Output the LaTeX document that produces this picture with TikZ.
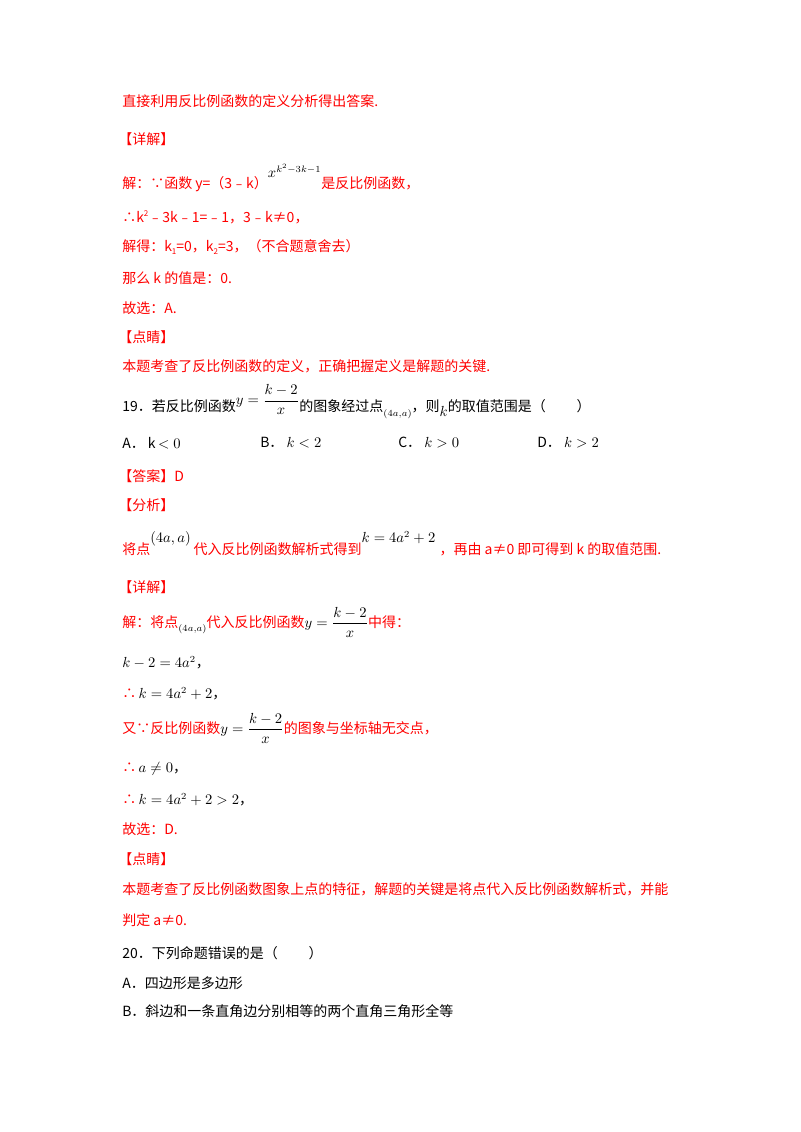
\documentclass[tikz,border=0pt]{standalone}
\usepackage{amsmath}
\usepackage{fontspec}
\setmainfont{Noto Sans CJK SC}
\definecolor{rd}{RGB}{255,0,0}
\begin{document}
\begin{tikzpicture}[x=0.75pt,y=-0.75pt,
  t/.style={anchor=west,inner sep=0pt,font=\fontsize{10.5pt}{12pt}\selectfont},
  r/.style={t,text=rd}]
\useasboundingbox[fill=white] (0,0) rectangle (800,1132);
\node[r] (l1) at (122,101) {直接利用反比例函数的定义分析得出答案.};
\node[r] (l2) at (118,139) {【详解】};
\node[r] (l3) at (122,178) {解：∵函数 y=（3﹣k）\raisebox{1.5ex}{\color{black}$x^{k^2-3k-1}$}是反比例函数，};
\node[r] (l4) at (122,217) {∴k\raisebox{0.8ex}{\fontsize{6pt}{6pt}\selectfont 2}﹣3k﹣1=﹣1，3﹣k≠0，};
\node[r] (l5) at (122,247) {解得：k\raisebox{-0.3ex}{\fontsize{6pt}{6pt}\selectfont 1}=0，k\raisebox{-0.3ex}{\fontsize{6pt}{6pt}\selectfont 2}=3，（不合题意舍去）};
\node[r] (l6) at (122,278) {那么 k 的值是：0.};
\node[r] (l7) at (122,308) {故选：A.};
\node[r] (l8) at (118,337) {【点睛】};
\node[r] (l9) at (122,366) {本题考查了反比例函数的定义，正确把握定义是解题的关键.};
\node[t] (q19) at (122,402) {\raisebox{-0.9ex}{19．若反比例函数}$y=\dfrac{k-2}{x}$\raisebox{-0.9ex}{的图象经过点}\raisebox{-1.6ex}{$\scriptstyle(4a,a)$}\raisebox{-0.9ex}{，则}\raisebox{-1.6ex}{$k$}\raisebox{-0.9ex}{的取值范围是（\hspace{2.2em}）}};
\node[t] (oa) at (122,443) {A．\ k$\,<0$};
\node[t] (ob) at (260,443) {B．\ $k<2$};
\node[t] (oc) at (398,443) {C．\ $k>0$};
\node[t] (od) at (537,443) {D．\ $k>2$};
\node[r] (ans) at (118,476) {【答案】D};
\node[r] (fx) at (118,505) {【分析】};
\node[r] (a1) at (122,544) {将点\raisebox{1.6ex}{\color{black}$(4a,a)$}\hspace{0.2em}代入反比例函数解析式得到\raisebox{1.6ex}{\color{black}$k=4a^2+2$}\hspace{0.3em}，再由 a≠0 即可得到 k 的取值范围.};
\node[r] (xj) at (118,587) {【详解】};
\node[r] (d1) at (122,622) {解：将点\raisebox{-0.6ex}{\color{black}$\scriptstyle(4a,a)$}代入反比例函数{\color{black}$y=\dfrac{k-2}{x}$}中得：};
\node[t] (d2) at (122,663) {$k-2=4a^2$，};
\node[t] (d3) at (122,694) {{\color{rd}∴}$\,k=4a^2+2$，};
\node[r] (d4) at (122,728) {又∵反比例函数{\color{black}$y=\dfrac{k-2}{x}$}的图象与坐标轴无交点，};
\node[t] (d5) at (122,769) {{\color{rd}∴}$\,a\neq0$，};
\node[t] (d6) at (122,800) {{\color{rd}∴}$\,k=4a^2+2>2$，};
\node[r] (d7) at (122,829) {故选：D.};
\node[r] (dj) at (118,859) {【点睛】};
\node[r] (e1) at (122,889) {本题考查了反比例函数图象上点的特征，解题的关键是将点代入反比例函数解析式，并能};
\node[r] (e2) at (122,920) {判定 a≠0.};
\node[t] (q20) at (122,953) {20．下列命题错误的是（\hspace{2.2em}）};
\node[t] (q20a) at (122,983) {A．四边形是多边形};
\node[t] (q20b) at (122,1011) {B．斜边和一条直角边分别相等的两个直角三角形全等};
\end{tikzpicture}
\end{document}
